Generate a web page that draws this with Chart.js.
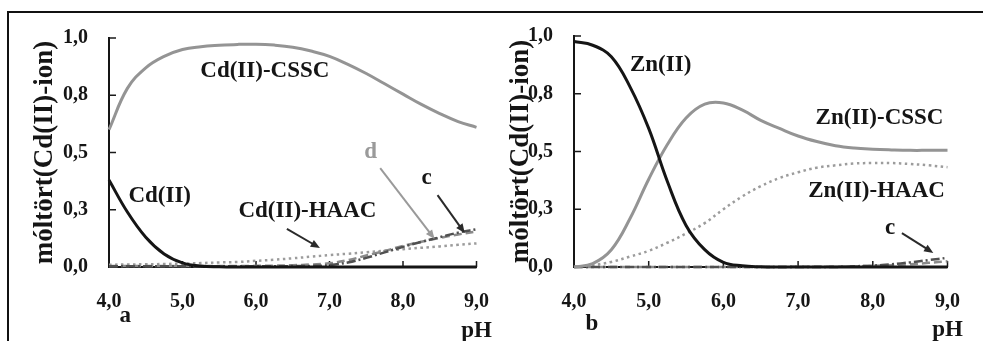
<!DOCTYPE html>
<html>
<head>
<meta charset="utf-8">
<script src="https://cdn.jsdelivr.net/npm/chart.js@4/dist/chart.umd.min.js"></script>
<style>
  html, body { margin: 0; padding: 0; background: #fff; }
  #page { position: relative; width: 983px; height: 341px; overflow: hidden; }
  #frame { position: absolute; left: 7px; top: 11px; width: 990px; height: 400px;
           border-top: 2px solid #111; border-left: 2px solid #111; }
  canvas { position: absolute; top: 0; }
  #cdPanel { left: 0; }
  #znPanel { left: 480px; }
</style>
</head>
<body>
<div id="page">
  <div id="frame"></div>
  <canvas id="cdPanel" width="512" height="341"></canvas>
  <canvas id="znPanel" width="503" height="341"></canvas>
</div>
<script>
// pH grid shared by both panels
const ph = [4.0, 4.25, 4.5, 4.75, 5.0, 5.25, 5.5, 5.75, 6.0, 6.25, 6.5, 6.75, 7.0,
            7.25, 7.5, 7.75, 8.0, 8.25, 8.5, 8.75, 9.0];

const xTickLabels = ['4,0', '5,0', '6,0', '7,0', '8,0', '9,0'];
const yTickLabels = ['0,0', '0,3', '0,5', '0,8', '1,0'];
const yTitle = 'móltört(Cd(II)-ion)';

// panel a: Cd(II)
const cdFree = [0.38, 0.24, 0.13, 0.057, 0.018, 0.004, 0.001, 0, 0, 0, 0, 0, 0,
                0, 0, 0, 0, 0, 0, 0, 0];
const cdCssc = [0.60, 0.78, 0.87, 0.92, 0.95, 0.962, 0.968, 0.972, 0.973, 0.969, 0.96, 0.943, 0.92,
                0.885, 0.845, 0.80, 0.755, 0.71, 0.67, 0.635, 0.61];
const cdHaac = [0.01, 0.011, 0.012, 0.013, 0.015, 0.017, 0.02, 0.022, 0.027, 0.032, 0.038, 0.045, 0.052,
                0.058, 0.064, 0.071, 0.078, 0.084, 0.09, 0.097, 0.103];
const cdD = [0.004, 0.004, 0.004, 0.004, 0.004, 0.004, 0.004, 0.004, 0.005, 0.006, 0.008, 0.011, 0.016,
             0.03, 0.05, 0.07, 0.092, 0.11, 0.127, 0.142, 0.155];
const cdC = [0.003, 0.003, 0.003, 0.003, 0.003, 0.003, 0.003, 0.003, 0.003, 0.003, 0.004, 0.005, 0.008,
             0.02, 0.04, 0.064, 0.088, 0.11, 0.13, 0.15, 0.165];

// panel b: Zn(II)
const znFree = [0.976, 0.96, 0.91, 0.78, 0.60, 0.37, 0.18, 0.075, 0.02, 0.005, 0.001, 0, 0,
                0, 0, 0, 0, 0, 0, 0, 0];
const znCssc = [0.0, 0.015, 0.075, 0.21, 0.38, 0.53, 0.645, 0.705, 0.71, 0.68, 0.635, 0.60, 0.567,
                0.543, 0.525, 0.515, 0.51, 0.507, 0.505, 0.505, 0.505];
const znHaac = [0.0, 0.008, 0.022, 0.045, 0.07, 0.105, 0.145, 0.19, 0.25, 0.305, 0.35, 0.385, 0.41,
                0.43, 0.44, 0.448, 0.45, 0.45, 0.446, 0.44, 0.432];
const znD = [0, 0, 0, 0, 0, 0, 0, 0, 0, 0, 0, 0, 0.001,
             0.001, 0.002, 0.003, 0.005, 0.008, 0.012, 0.018, 0.025];
const znC = [0, 0, 0, 0, 0, 0, 0, 0, 0, 0, 0, 0, 0,
             0, 0, 0.003, 0.006, 0.012, 0.02, 0.03, 0.04];

const SERIF = "'Liberation Serif', 'Times New Roman', serif";
Chart.defaults.font.family = SERIF;
Chart.defaults.color = '#1a1a1a';

const GRAY = '#949494';
const BLACK = '#151515';

function points(values) {
  return ph.map((x, i) => ({ x, y: values[i] }));
}

function line(values, color, width, dash) {
  return {
    data: points(values),
    borderColor: color,
    borderWidth: width,
    borderDash: dash || [],
    pointRadius: 0,
    tension: 0.4,
    clip: false,
    fill: false,
  };
}

// small tick marks pointing into the plot
const innerTicks = {
  id: 'innerTicks',
  beforeDatasetsDraw(chart) {
    const { ctx, chartArea, scales } = chart;
    ctx.save();
    ctx.strokeStyle = '#1a1a1a';
    ctx.lineWidth = 1.5;
    ctx.beginPath();
    scales.x.ticks.forEach(t => {
      const px = scales.x.getPixelForValue(t.value);
      ctx.moveTo(px, chartArea.bottom);
      ctx.lineTo(px, chartArea.bottom - 6);
    });
    scales.y.ticks.forEach(t => {
      const py = scales.y.getPixelForValue(t.value);
      ctx.moveTo(chartArea.left, py);
      ctx.lineTo(chartArea.left + 7, py);
    });
    ctx.stroke();
    ctx.restore();
  }
};

// curve labels and arrows, placed in data units
const notes = {
  id: 'notes',
  afterDatasetsDraw(chart, args, opts) {
    const { ctx, scales } = chart;
    const px = v => scales.x.getPixelForValue(v);
    const py = v => scales.y.getPixelForValue(v);
    ctx.save();
    (opts.arrows || []).forEach(a => {
      const x1 = px(a.from[0]), y1 = py(a.from[1]);
      const x2 = px(a.to[0]), y2 = py(a.to[1]);
      const ang = Math.atan2(y2 - y1, x2 - x1);
      const head = 10;
      ctx.strokeStyle = a.color;
      ctx.fillStyle = a.color;
      ctx.lineWidth = 2;
      ctx.beginPath();
      ctx.moveTo(x1, y1);
      ctx.lineTo(x2 - Math.cos(ang) * head * 0.8, y2 - Math.sin(ang) * head * 0.8);
      ctx.stroke();
      ctx.beginPath();
      ctx.moveTo(x2, y2);
      ctx.lineTo(x2 - head * Math.cos(ang - 0.4), y2 - head * Math.sin(ang - 0.4));
      ctx.lineTo(x2 - head * Math.cos(ang + 0.4), y2 - head * Math.sin(ang + 0.4));
      ctx.closePath();
      ctx.fill();
    });
    ctx.textAlign = 'center';
    ctx.textBaseline = 'middle';
    (opts.labels || []).forEach(l => {
      ctx.font = 'bold ' + (l.size || 23) + 'px ' + SERIF;
      ctx.fillStyle = l.color || BLACK;
      ctx.fillText(l.text, px(l.at[0]), py(l.at[1]));
    });
    ctx.restore();
  }
};

function makePanel(id, datasets, axisWidth, titlePad, pad, noteOpts) {
  return new Chart(document.getElementById(id), {
    type: 'line',
    data: { datasets },
    plugins: [innerTicks, notes],
    options: {
      responsive: false,
      animation: false,
      events: [],
      layout: { padding: pad },
      plugins: {
        legend: { display: false },
        tooltip: { enabled: false },
        notes: noteOpts,
      },
      scales: {
        x: {
          type: 'linear',
          min: 4, max: 9,
          grid: { display: false, drawTicks: false },
          border: { display: true, color: BLACK, width: 2 },
          ticks: {
            stepSize: 1,
            padding: 23,
            color: BLACK,
            font: { size: 20, weight: 'bold' },
            callback: (v, i) => xTickLabels[i],
          },
          afterFit: s => { s.height = 74; },
        },
        y: {
          min: 0, max: 1,
          grid: { display: false, drawTicks: false },
          border: { display: true, color: BLACK, width: 2 },
          ticks: {
            stepSize: 0.25,
            padding: 21,
            color: BLACK,
            font: { size: 20, weight: 'bold' },
            callback: (v, i) => yTickLabels[i],
          },
          title: {
            display: true,
            text: yTitle,
            color: BLACK,
            font: { size: 27, weight: 'bold' },
            padding: { top: titlePad, bottom: 0 },
          },
          afterFit: s => { s.width = axisWidth; },
        },
      },
    },
  });
}

makePanel('cdPanel', [
  line(cdFree, BLACK, 3),
  line(cdCssc, GRAY, 3),
  line(cdC, '#505050', 2.5, [9, 3, 2, 3]),
  line(cdD, '#8a8a8a', 2.5, [8, 4]),
  line(cdHaac, '#9c9c9c', 2.5, [2.5, 3.5]),
], 109, 29, { left: 0, right: 18, top: 38, bottom: 0 }, {
  labels: [
    { text: 'Cd(II)-CSSC', at: [6.12, 0.856] },
    { text: 'Cd(II)', at: [4.69, 0.31] },
    { text: 'Cd(II)-HAAC', at: [6.70, 0.243] },
    { text: 'd', at: [7.56, 0.50], color: '#9a9a9a' },
    { text: 'c', at: [8.32, 0.39] },
    { text: 'a', at: [4.22, -0.215] },
    { text: 'pH', at: [9.0, -0.28] },
  ],
  arrows: [
    { from: [6.42, 0.166], to: [6.87, 0.083], color: '#2a2a2a' },
    { from: [7.69, 0.432], to: [8.43, 0.122], color: '#9a9a9a' },
    { from: [8.47, 0.314], to: [8.84, 0.148], color: '#2a2a2a' },
  ],
});

makePanel('znPanel', [
  line(znFree, BLACK, 3),
  line(znCssc, GRAY, 3),
  line(znC, '#505050', 2.5, [9, 3, 2, 3]),
  line(znD, '#8a8a8a', 2.5, [8, 4]),
  line(znHaac, '#9c9c9c', 2.5, [2.5, 3.5]),
], 94, 25, { left: 0, right: 18, top: 36, bottom: 0 }, {
  labels: [
    { text: 'Zn(II)', at: [5.16, 0.874] },
    { text: 'Zn(II)-CSSC', at: [8.09, 0.645] },
    { text: 'Zn(II)-HAAC', at: [8.05, 0.33] },
    { text: 'c', at: [8.23, 0.168] },
    { text: 'b', at: [4.24, -0.245] },
    { text: 'pH', at: [9.0, -0.275] },
  ],
  arrows: [
    { from: [8.39, 0.147], to: [8.81, 0.061], color: '#2a2a2a' },
  ],
});
</script>
</body>
</html>
